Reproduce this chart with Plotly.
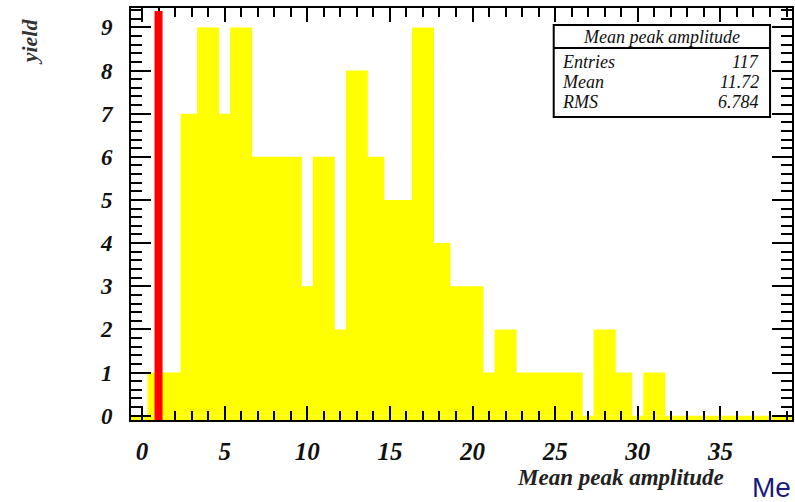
import plotly.graph_objects as go

# Histogram of mean peak amplitude: step edges and the yield in each step
bin_edges = [0.333, 2.333, 3.333, 4.667, 5.333, 6.667, 9.667, 10.333, 11.667,
             12.333, 13.667, 14.667, 16.333, 17.667, 18.667, 20.667, 21.333,
             22.667, 26.667, 27.333, 28.667, 29.667, 30.333, 31.667]
yields = [1, 7, 9, 7, 9, 6, 3, 6, 2, 8, 6, 5, 9, 4, 3, 1, 2, 1, 0, 2, 1, 0, 1]

# Threshold marker
cut_value = 1.0

# Statistics box
stats_title = "Mean peak amplitude"
stats_labels = ["Entries", "Mean", "RMS"]
stats_values = ["117", "11.72", "6.784"]

x_ticks = [0, 5, 10, 15, 20, 25, 30, 35]
y_ticks = [0, 1, 2, 3, 4, 5, 6, 7, 8, 9]

X_RANGE = [-0.667, 39.333]
Y_RANGE = [-0.1, 9.45]

W, H = 795, 502
M_L, M_R, M_T, M_B = 131, 1, 8, 82
PW = W - M_L - M_R
PH = H - M_T - M_B


def px_x(p):
    return (p - M_L) / PW


def px_y(p):
    return (H - M_B - p) / PH


SERIF = "Liberation Serif"
INK = "#111111"

fig = go.Figure()

fig.add_trace(go.Scatter(
    x=bin_edges,
    y=yields + [yields[-1]],
    mode="lines",
    line=dict(shape="hv", width=0, color="rgba(0,0,0,0)"),
    fill="tozeroy",
    fillcolor="#ffff00",
    hoverinfo="skip",
    showlegend=False,
))

axis_common = dict(
    showgrid=False,
    zeroline=False,
    showline=True,
    linecolor="black",
    linewidth=2,
    mirror="ticks",
    ticks="inside",
    tickwidth=2,
    tickcolor="black",
)

fig.update_xaxes(
    range=X_RANGE,
    tickmode="array",
    tickvals=x_ticks,
    ticklen=14,
    minor=dict(dtick=1, tick0=0, ticklen=9, tickwidth=2, ticks="inside", tickcolor="black"),
    tickfont=dict(family=SERIF, size=25, color=INK, style="italic", weight="bold"),
    ticklabelstandoff=8,
    **axis_common,
)
fig.update_yaxes(
    range=Y_RANGE,
    tickmode="array",
    tickvals=y_ticks,
    ticklen=20,
    minor=dict(dtick=0.2, tick0=0, ticklen=11, tickwidth=2, ticks="inside", tickcolor="black"),
    tickfont=dict(family=SERIF, size=23, color=INK, style="italic", weight="bold"),
    ticklabelstandoff=12,
    **axis_common,
)

shapes = [
    # zero-content band between the frame bottom and y = 0
    dict(type="rect", xref="x domain", yref="y", x0=0, x1=1, y0=Y_RANGE[0], y1=0,
         fillcolor="#ffff00", line=dict(width=0), layer="below"),
    # threshold line
    dict(type="line", xref="x", yref="y domain", x0=cut_value, x1=cut_value,
         y0=0, y1=0.993, line=dict(color="#ff0000", width=8), layer="above"),
    # statistics box
    dict(type="rect", xref="paper", yref="paper",
         x0=px_x(555), x1=px_x(772), y0=px_y(117), y1=px_y(25),
         fillcolor="white", line=dict(color="black", width=2), layer="above"),
    dict(type="line", xref="paper", yref="paper",
         x0=px_x(555), x1=px_x(772), y0=px_y(48), y1=px_y(48),
         line=dict(color="black", width=2), layer="above"),
]

annotations = [
    dict(text=stats_title, x=px_x(663), y=px_y(37), xref="paper", yref="paper",
         xanchor="center", yanchor="middle", showarrow=False,
         font=dict(family=SERIF, size=18, color=INK, style="italic")),
    dict(text="Mean peak amplitude", x=px_x(728), y=px_y(477), xref="paper", yref="paper",
         xanchor="right", yanchor="middle", showarrow=False,
         font=dict(family=SERIF, size=23, color="#222222", style="italic", weight="bold")),
    dict(text="yield", x=px_x(30), y=px_y(42), xref="paper", yref="paper",
         xanchor="center", yanchor="middle", textangle=-90, showarrow=False,
         font=dict(family=SERIF, size=22, color="#333333", style="italic", weight="bold")),
    dict(text="Me", x=px_x(752), y=px_y(470), xref="paper", yref="paper",
         xanchor="left", yanchor="top", showarrow=False,
         font=dict(family="Liberation Sans", size=28, color="#1a1a80")),
]

row_y = [62, 82, 102]
for label, value, yp in zip(stats_labels, stats_values, row_y):
    annotations.append(dict(text=label, x=px_x(561), y=px_y(yp), xref="paper", yref="paper",
                            xanchor="left", yanchor="middle", showarrow=False,
                            font=dict(family=SERIF, size=18, color=INK, style="italic")))
    annotations.append(dict(text=value, x=px_x(763), y=px_y(yp), xref="paper", yref="paper",
                            xanchor="right", yanchor="middle", showarrow=False,
                            font=dict(family=SERIF, size=18, color=INK, style="italic")))

fig.update_layout(
    width=W,
    height=H,
    margin=dict(l=M_L, r=M_R, t=M_T, b=M_B, pad=0),
    paper_bgcolor="white",
    plot_bgcolor="white",
    shapes=shapes,
    annotations=annotations,
    showlegend=False,
)

fig.write_html("out.html")
